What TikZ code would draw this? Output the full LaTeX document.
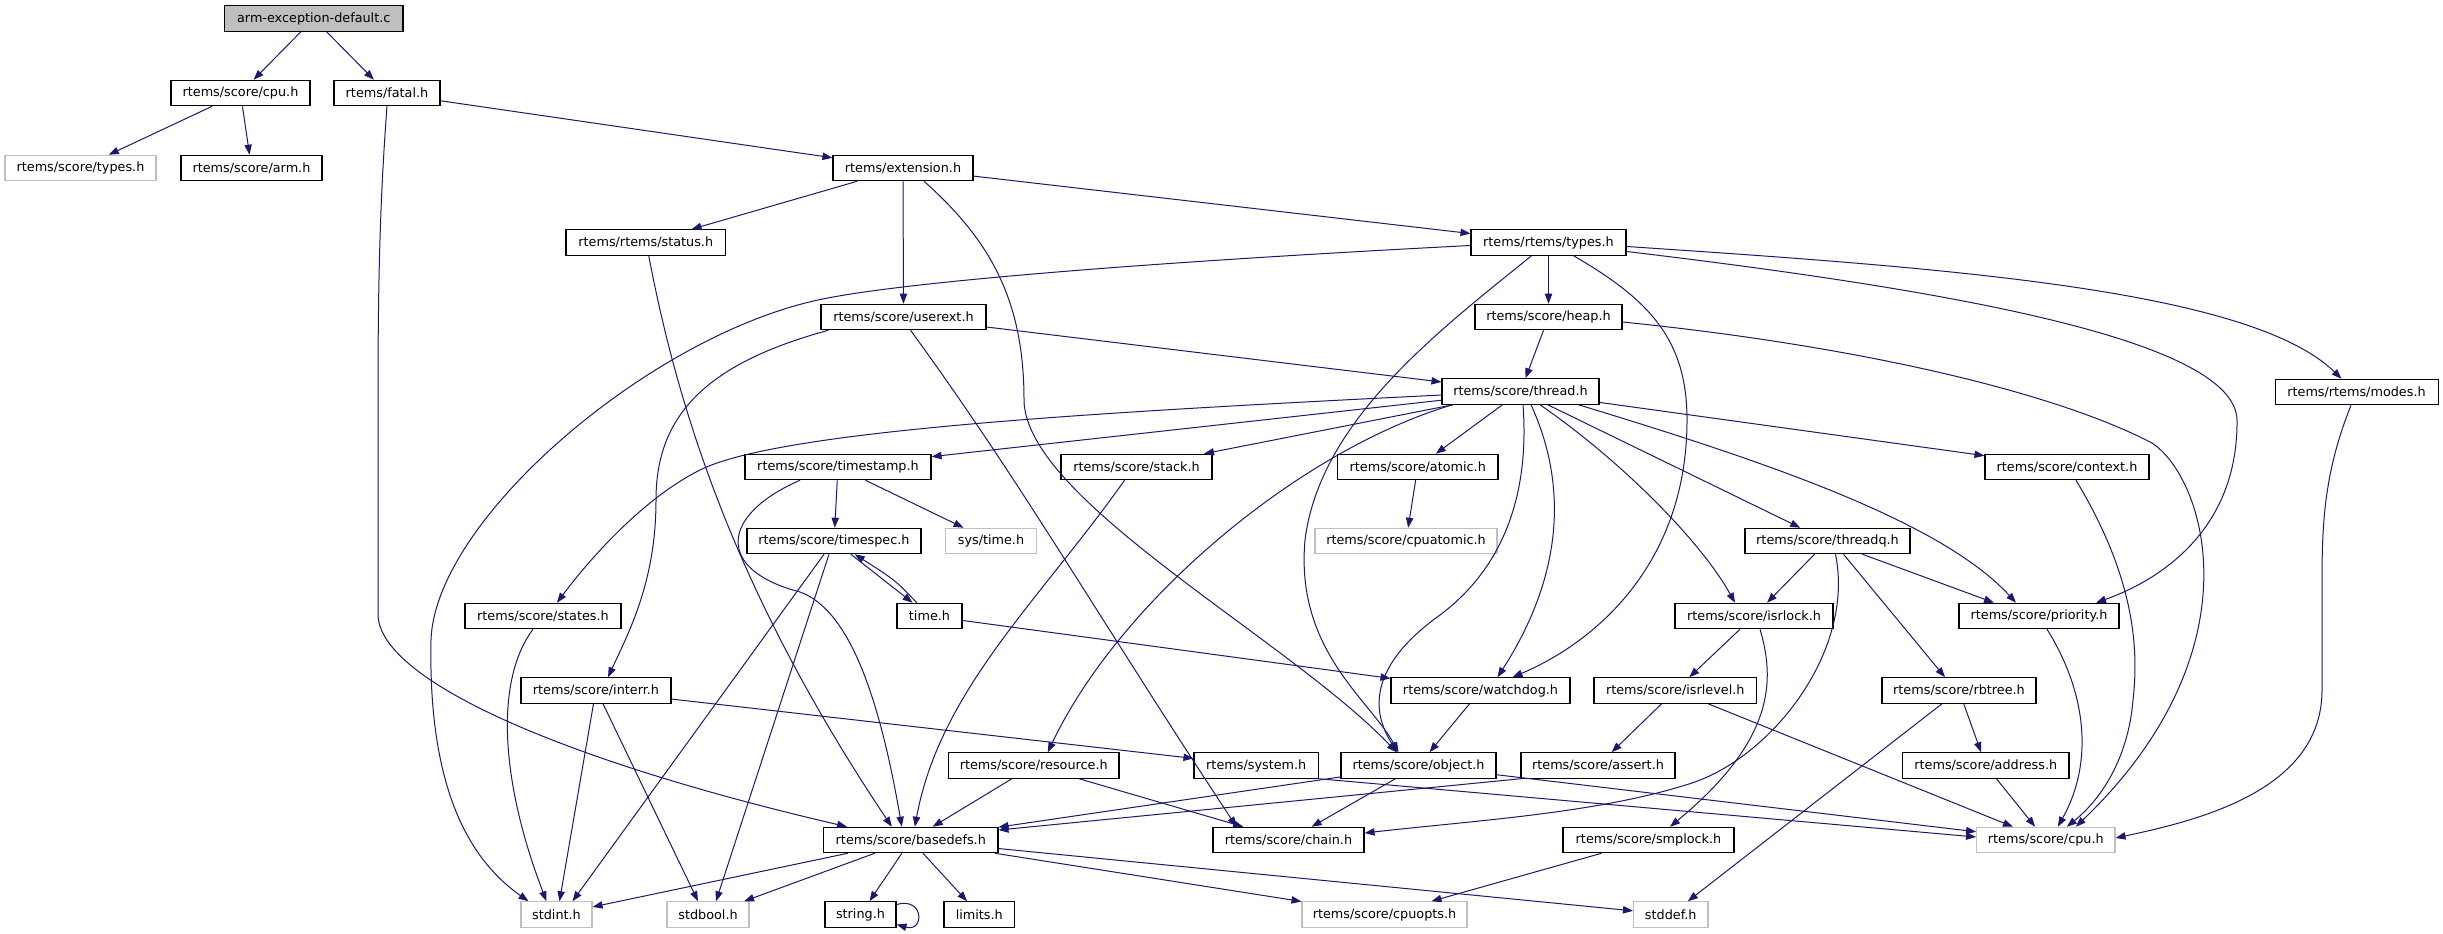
\documentclass[tikz,border=0pt]{standalone}
\usepackage{fontspec}
\setmainfont{DejaVu Sans}
\usetikzlibrary{arrows.meta,calc}
\definecolor{edgec}{HTML}{191970}
\definecolor{grayb}{HTML}{BFBFBF}
\tikzset{
  box/.style={draw=black, line width=0.8pt, fill=white, minimum height=19.1pt, inner sep=0pt, font=\fontsize{9.6}{11}\selectfont},
  gbox/.style={box, draw=grayb},
  rootbox/.style={box, fill=grayb},
  bw/.style={minimum width=#1*0.75pt},
  edge/.style={draw=edgec, line width=0.75pt, -{Triangle[length=7.5pt,width=5.5pt]}}
}
\begin{document}
\begin{tikzpicture}[x=0.75pt,y=-0.75pt]
\path[use as bounding box] (0,0) rectangle (2443,934);
\fill[white] (0,0) rectangle (2443,934);
% nodes
\node[rootbox,bw=178.5] (root) at (313.75,18.7) {arm-exception-default.c};
\node[box,bw=139] (cputop) at (240.5,93) {rtems/score/cpu.h};
\node[box,bw=106] (fatal) at (387,93) {rtems/fatal.h};
\node[gbox,bw=151] (stypes) at (80.5,168) {rtems/score/types.h};
\node[box,bw=141] (arm) at (251.5,168) {rtems/score/arm.h};
\node[box,bw=140] (ext) at (903,168) {rtems/extension.h};
\node[box,bw=159.5] (status) at (645.75,242.5) {rtems/rtems/status.h};
\node[box,bw=155] (rtypes) at (1548.5,242.5) {rtems/rtems/types.h};
\node[box,bw=165] (userext) at (903.5,317) {rtems/score/userext.h};
\node[box,bw=147] (heap) at (1548.5,317) {rtems/score/heap.h};
\node[box,bw=157] (thread) at (1520.5,391.5) {rtems/score/thread.h};
\node[box,bw=163] (modes) at (2356.5,392) {rtems/rtems/modes.h};
\node[box,bw=186] (timestamp) at (838,467) {rtems/score/timestamp.h};
\node[box,bw=151] (stack) at (1136.5,467) {rtems/score/stack.h};
\node[box,bw=160.5] (atomic) at (1417.75,467) {rtems/score/atomic.h};
\node[box,bw=164] (context) at (2067,467) {rtems/score/context.h};
\node[box,bw=174] (timespec) at (834,541) {rtems/score/timespec.h};
\node[gbox,bw=91] (systime) at (991,541) {sys/time.h};
\node[gbox,bw=182] (cpuatomic) at (1406,541) {rtems/score/cpuatomic.h};
\node[box,bw=165] (threadq) at (1827.5,541) {rtems/score/threadq.h};
\node[box,bw=156] (states) at (543,616) {rtems/score/states.h};
\node[box,bw=65] (timeh) at (929.5,616) {time.h};
\node[box,bw=158] (isrlock) at (1754,616) {rtems/score/isrlock.h};
\node[box,bw=160] (priority) at (2039,616) {rtems/score/priority.h};
\node[box,bw=150] (interr) at (596,690.5) {rtems/score/interr.h};
\node[box,bw=179] (watchdog) at (1480.5,690.5) {rtems/score/watchdog.h};
\node[box,bw=162.5] (isrlevel) at (1675.25,690.5) {rtems/score/isrlevel.h};
\node[box,bw=154] (rbtree) at (1959,690.5) {rtems/score/rbtree.h};
\node[box,bw=170.5] (resource) at (1033.75,765.5) {rtems/score/resource.h};
\node[box,bw=124.5] (system) at (1256.25,765.5) {rtems/system.h};
\node[box,bw=155] (object) at (1418.5,765.5) {rtems/score/object.h};
\node[box,bw=154] (assert) at (1598,765.5) {rtems/score/assert.h};
\node[box,bw=166.5] (address) at (1985.75,765.5) {rtems/score/address.h};
\node[box,bw=174.4] (basedefs) at (910.8,840) {rtems/score/basedefs.h};
\node[box,bw=151] (chain) at (1288.5,840) {rtems/score/chain.h};
\node[box,bw=171] (smplock) at (1648.5,840) {rtems/score/smplock.h};
\node[gbox,bw=138.4] (cpubot) at (2045.8,840) {rtems/score/cpu.h};
\node[gbox,bw=71] (stdint) at (556.5,914.5) {stdint.h};
\node[gbox,bw=82] (stdbool) at (708,914.5) {stdbool.h};
\node[box,bw=71] (string) at (860.5,914.5) {string.h};
\node[box,bw=70.5] (limits) at (979.25,914.5) {limits.h};
\node[gbox,bw=165] (cpuopts) at (1384.5,914.5) {rtems/score/cpuopts.h};
\node[gbox,bw=74.5] (stddef) at (1670.75,914.5) {stddef.h};
% edges
\draw[edge] (root) -- (cputop);
\draw[edge] (root) -- (fatal);
\draw[edge] (cputop) -- (stypes);
\draw[edge] (cputop) -- (arm);
\draw[edge] (fatal) -- (ext);
\draw[edge] (fatal.south) .. controls (380,200) and (378,280) .. (378,400) -- (378,615) .. controls (380,680) and (560,760) .. ($(basedefs.north west)+(24,0)$);
\draw[edge] (ext) -- (status);
\draw[edge] (ext) -- (userext);
\draw[edge] ($(ext.south)+(21,0)$) .. controls (990,240) and (1024,300) .. (1024,400) .. controls (1025,500) and (1290,640) .. ($(object.north)+(-22,0)$);
\draw[edge] (ext) -- (rtypes);
\draw[edge] ($(status.south)+(3,0)$) .. controls (680,420) and (740,600) .. ($(basedefs.north)+(-19,0)$);
\draw[edge] ($(rtypes.west)+(0,3)$) .. controls (1150,262) and (900,282) .. (818,300) .. controls (648,337) and (435,520) .. (431,640) .. controls (428,790) and (470,860) .. ($(stdint.north west)+(8,0)$);
\draw[edge] (rtypes) -- (heap);
\draw[edge] ($(rtypes.south)+(-17,0)$) .. controls (1440,330) and (1320,420) .. (1305,540) .. controls (1295,650) and (1370,700) .. ($(object.north)+(-20,0)$);
\draw[edge] ($(rtypes.south)+(25,0)$) .. controls (1650,300) and (1687,340) .. (1687,420) .. controls (1687,560) and (1600,640) .. ($(watchdog.north)+(32,0)$);
\draw[edge] ($(rtypes.east)+(0,9)$) .. controls (1950,290) and (2235,340) .. (2237,420) .. controls (2238,530) and (2160,580) .. ($(priority.north)+(57,0)$);
\draw[edge] ($(rtypes.east)+(0,4)$) .. controls (1950,268) and (2250,290) .. ($(modes.north)+(-15,0)$);
\draw[edge] (userext) -- (thread);
\draw[edge] ($(userext.south west)+(8,0)$) .. controls (700,365) and (656,420) .. (656,500) .. controls (656,580) and (630,630) .. ($(interr.north)+(12,0)$);
\draw[edge] ($(userext.south)+(7,0)$) .. controls (1020,480) and (1100,620) .. ($(chain.north)+(-52,0)$);
\draw[edge] (heap) -- (thread);
\draw[edge] ($(heap.east)+(0,5)$) .. controls (1850,345) and (2050,390) .. (2152,443) .. controls (2205,478) and (2260,650) .. ($(cpubot.north)+(30,0)$);
\draw[edge] (thread) -- (timestamp);
\draw[edge] ($(thread.west)+(0,3.5)$) .. controls (1100,412) and (780,430) .. (700,470) .. controls (640,500) and (585,565) .. ($(states.north)+(14,0)$);
\draw[edge] (thread) -- (stack);
\draw[edge] (thread) -- (atomic);
\draw[edge] ($(thread.south west)+(11,0)$) .. controls (1300,450) and (1120,600) .. ($(resource.north)+(14,0)$);
\draw[edge] ($(thread.south)+(2.5,0)$) .. controls (1530,500) and (1500,570) .. (1440,615) .. controls (1370,665) and (1370,710) .. ($(object.north)+(-21,0)$);
\draw[edge] ($(thread.south)+(10.5,0)$) .. controls (1570,490) and (1560,580) .. ($(watchdog.north)+(17,0)$);
\draw[edge] ($(thread.south)+(19.5,0)$) .. controls (1620,460) and (1700,540) .. ($(isrlock.north)+(-19,0)$);
\draw[edge] (thread) -- (threadq);
\draw[edge] ($(thread.south east)+(-21,0)$) .. controls (1760,460) and (1940,520) .. ($(priority.north)+(-23,0)$);
\draw[edge] (thread) -- (context);
\draw[edge] (timestamp) -- (timespec);
\draw[edge] (timestamp) -- (systime);
\draw[edge] ($(timestamp.south)+(-38,0)$) .. controls (720,515) and (715,570) .. (800,592) .. controls (850,610) and (880,700) .. ($(basedefs.north)+(-9,0)$);
\draw[edge] ($(stack.south)+(-12,0)$) .. controls (1040,600) and (940,690) .. ($(basedefs.north)+(4,0)$);
\draw[edge] (atomic) -- (cpuatomic);
\draw[edge] ($(timespec.south)+(-10,0)$) -- ($(stdint.north)+(16,0)$);
\draw[edge] ($(timespec.south)+(-5,0)$) -- ($(stdbool.north)+(8,0)$);
\draw[edge] (timespec) -- (timeh);
\draw[edge] (timeh) .. controls (895,580) .. (timespec);
\draw[edge] (timeh) -- (watchdog);
\draw[edge] ($(states.south)+(-10,0)$) .. controls (495,680) and (500,780) .. ($(stdint.north)+(-10,0)$);
\draw[edge] ($(interr.south)+(-2.5,0)$) -- ($(stdint.north)+(3,0)$);
\draw[edge] ($(interr.south)+(7,0)$) -- ($(stdbool.north)+(-10,0)$);
\draw[edge] (interr) -- (system);
\draw[edge] (resource) -- (basedefs);
\draw[edge] (resource) -- (chain);
\draw[edge] (basedefs) -- (stdint);
\draw[edge] (basedefs) -- (stdbool);
\draw[edge] (basedefs) -- (string);
\draw[edge] (basedefs) -- (limits);
\draw[edge] (basedefs) -- (cpuopts);
\draw[edge] (basedefs) -- (stddef);
\draw[edge] ($(string.east)+(0,-10)$) .. controls ($(string.east)+(28,-18)$) and ($(string.east)+(28,18)$) .. ($(string.east)+(0,10)$);
\draw[edge] (system.south east) -- ($(cpubot.west)+(0,-3)$);
\draw[edge] (object) -- (cpubot);
\draw[edge] (object) -- (chain);
\draw[edge] (object) -- (basedefs);
\draw[edge] (assert.south west) -- ($(basedefs.east)+(0,-10)$);
\draw[edge] (watchdog) -- (object);
\draw[edge] (isrlock) -- (isrlevel);
\draw[edge] ($(isrlock.south)+(6,0)$) .. controls (1775,680) and (1775,740) .. ($(smplock.north)+(21.5,0)$);
\draw[edge] (isrlevel) -- (assert);
\draw[edge] (isrlevel) -- (cpubot);
\draw[edge] (smplock) -- (cpuopts);
\draw[edge] (threadq) -- (isrlock);
\draw[edge] ($(threadq.south)+(35,0)$) -- ($(priority.north)+(-45,0)$);
\draw[edge] ($(threadq.south)+(16,0)$) -- ($(rbtree.north)+(-14,0)$);
\draw[edge] ($(threadq.south)+(8,0)$) .. controls (1855,650) and (1773,756) .. (1692,783) .. controls (1600,813) and (1480,820) .. ($(chain.east)+(0,-7)$);
\draw[edge] (rbtree) -- (stddef);
\draw[edge] (rbtree) -- (address);
\draw[edge] (address) -- (cpubot);
\draw[edge] ($(priority.south)+(8,0)$) .. controls (2085,690) and (2095,760) .. ($(cpubot.north)+(12,0)$);
\draw[edge] ($(context.south)+(9,0)$) .. controls (2130,570) and (2140,640) .. (2133,700) .. controls (2128,760) and (2100,800) .. ($(cpubot.north)+(21,0)$);
\draw[edge] ($(modes.south)+(-5.5,0)$) .. controls (2325,470) and (2322,520) .. (2322,580) -- (2322,690) .. controls (2322,790) and (2200,820) .. ($(cpubot.east)+(0,-2)$);
\end{tikzpicture}
\end{document}
